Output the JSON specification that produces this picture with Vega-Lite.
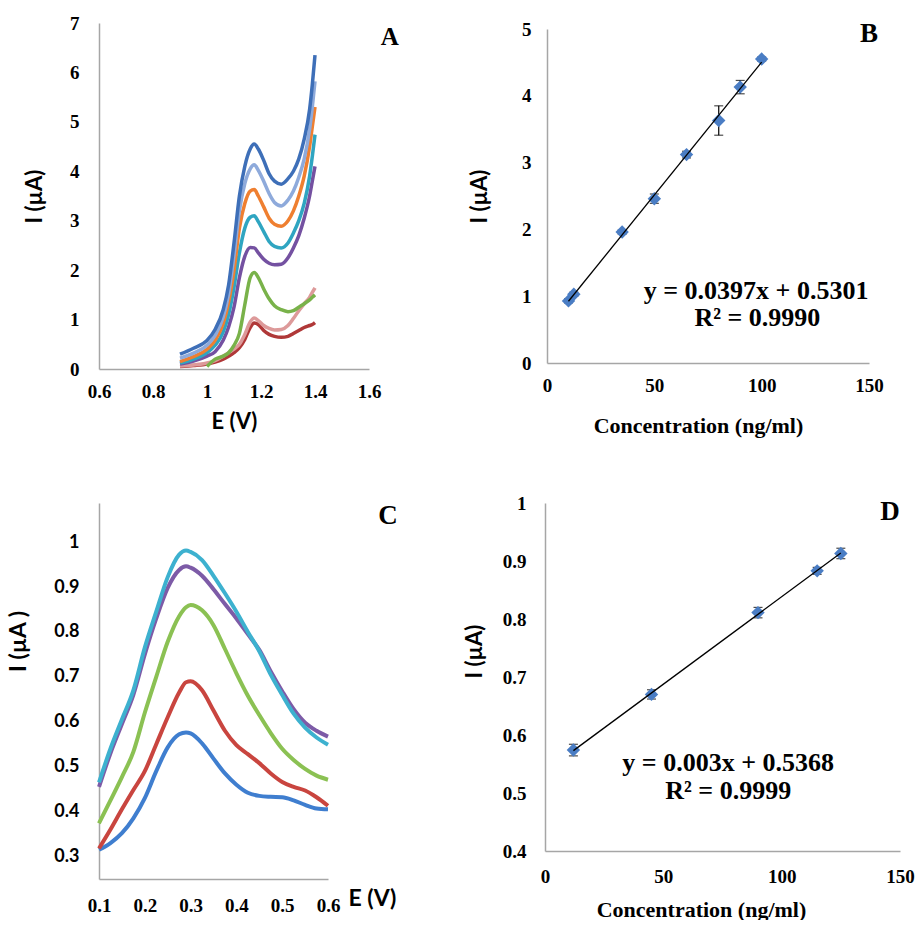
{
  "$schema": "https://vega.github.io/schema/vega-lite/v6.json",
  "background": "white",
  "padding": {"left": 7, "top": 14, "right": 0, "bottom": 0},
  "datasets": {
    "A": [
      {"s":"s8","E":0.90,"I":0.05},{"s":"s8","E":0.95,"I":0.07},{"s":"s8","E":1.00,"I":0.10},{"s":"s8","E":1.03,"I":0.14},{"s":"s8","E":1.06,"I":0.20},{"s":"s8","E":1.08,"I":0.26},{"s":"s8","E":1.10,"I":0.33},{"s":"s8","E":1.12,"I":0.43},{"s":"s8","E":1.14,"I":0.60},{"s":"s8","E":1.16,"I":0.84},{"s":"s8","E":1.175,"I":0.93},{"s":"s8","E":1.19,"I":0.90},{"s":"s8","E":1.21,"I":0.78},{"s":"s8","E":1.23,"I":0.70},{"s":"s8","E":1.25,"I":0.66},{"s":"s8","E":1.275,"I":0.64},{"s":"s8","E":1.30,"I":0.66},{"s":"s8","E":1.32,"I":0.72},{"s":"s8","E":1.34,"I":0.78},{"s":"s8","E":1.36,"I":0.84},{"s":"s8","E":1.38,"I":0.88},{"s":"s8","E":1.39,"I":0.90},{"s":"s8","E":1.40,"I":0.94},
      {"s":"s7","E":0.90,"I":0.06},{"s":"s7","E":0.95,"I":0.08},{"s":"s7","E":1.00,"I":0.12},{"s":"s7","E":1.03,"I":0.17},{"s":"s7","E":1.06,"I":0.26},{"s":"s7","E":1.08,"I":0.33},{"s":"s7","E":1.10,"I":0.40},{"s":"s7","E":1.12,"I":0.50},{"s":"s7","E":1.14,"I":0.70},{"s":"s7","E":1.16,"I":0.95},{"s":"s7","E":1.175,"I":1.03},{"s":"s7","E":1.19,"I":0.98},{"s":"s7","E":1.21,"I":0.88},{"s":"s7","E":1.23,"I":0.82},{"s":"s7","E":1.25,"I":0.79},{"s":"s7","E":1.275,"I":0.80},{"s":"s7","E":1.30,"I":0.88},{"s":"s7","E":1.32,"I":1.02},{"s":"s7","E":1.34,"I":1.18},{"s":"s7","E":1.36,"I":1.32},{"s":"s7","E":1.38,"I":1.45},{"s":"s7","E":1.39,"I":1.55},{"s":"s7","E":1.40,"I":1.64},
      {"s":"s6","E":1.00,"I":0.05},{"s":"s6","E":1.03,"I":0.20},{"s":"s6","E":1.06,"I":0.26},{"s":"s6","E":1.08,"I":0.33},{"s":"s6","E":1.10,"I":0.48},{"s":"s6","E":1.12,"I":0.72},{"s":"s6","E":1.14,"I":1.30},{"s":"s6","E":1.16,"I":1.85},{"s":"s6","E":1.175,"I":1.95},{"s":"s6","E":1.19,"I":1.85},{"s":"s6","E":1.21,"I":1.62},{"s":"s6","E":1.23,"I":1.42},{"s":"s6","E":1.25,"I":1.28},{"s":"s6","E":1.275,"I":1.20},{"s":"s6","E":1.30,"I":1.16},{"s":"s6","E":1.32,"I":1.18},{"s":"s6","E":1.34,"I":1.25},{"s":"s6","E":1.36,"I":1.32},{"s":"s6","E":1.38,"I":1.40},{"s":"s6","E":1.39,"I":1.45},{"s":"s6","E":1.40,"I":1.50},
      {"s":"s5","E":0.90,"I":0.10},{"s":"s5","E":0.95,"I":0.16},{"s":"s5","E":1.00,"I":0.26},{"s":"s5","E":1.03,"I":0.35},{"s":"s5","E":1.06,"I":0.58},{"s":"s5","E":1.08,"I":0.85},{"s":"s5","E":1.10,"I":1.25},{"s":"s5","E":1.12,"I":1.85},{"s":"s5","E":1.14,"I":2.28},{"s":"s5","E":1.16,"I":2.46},{"s":"s5","E":1.175,"I":2.45},{"s":"s5","E":1.19,"I":2.35},{"s":"s5","E":1.21,"I":2.22},{"s":"s5","E":1.23,"I":2.14},{"s":"s5","E":1.25,"I":2.11},{"s":"s5","E":1.275,"I":2.12},{"s":"s5","E":1.30,"I":2.25},{"s":"s5","E":1.32,"I":2.45},{"s":"s5","E":1.34,"I":2.70},{"s":"s5","E":1.36,"I":3.05},{"s":"s5","E":1.38,"I":3.50},{"s":"s5","E":1.39,"I":3.80},{"s":"s5","E":1.40,"I":4.10},
      {"s":"s4","E":0.90,"I":0.12},{"s":"s4","E":0.95,"I":0.20},{"s":"s4","E":1.00,"I":0.33},{"s":"s4","E":1.03,"I":0.48},{"s":"s4","E":1.06,"I":0.75},{"s":"s4","E":1.08,"I":1.10},{"s":"s4","E":1.10,"I":1.65},{"s":"s4","E":1.12,"I":2.35},{"s":"s4","E":1.14,"I":2.85},{"s":"s4","E":1.16,"I":3.07},{"s":"s4","E":1.175,"I":3.10},{"s":"s4","E":1.19,"I":2.98},{"s":"s4","E":1.21,"I":2.78},{"s":"s4","E":1.23,"I":2.58},{"s":"s4","E":1.25,"I":2.48},{"s":"s4","E":1.275,"I":2.45},{"s":"s4","E":1.30,"I":2.55},{"s":"s4","E":1.32,"I":2.75},{"s":"s4","E":1.34,"I":3.00},{"s":"s4","E":1.36,"I":3.35},{"s":"s4","E":1.38,"I":3.90},{"s":"s4","E":1.39,"I":4.30},{"s":"s4","E":1.40,"I":4.74},
      {"s":"s3","E":0.90,"I":0.15},{"s":"s3","E":0.95,"I":0.25},{"s":"s3","E":1.00,"I":0.40},{"s":"s3","E":1.03,"I":0.58},{"s":"s3","E":1.06,"I":0.92},{"s":"s3","E":1.08,"I":1.35},{"s":"s3","E":1.10,"I":2.00},{"s":"s3","E":1.12,"I":2.85},{"s":"s3","E":1.14,"I":3.35},{"s":"s3","E":1.16,"I":3.60},{"s":"s3","E":1.175,"I":3.63},{"s":"s3","E":1.19,"I":3.50},{"s":"s3","E":1.21,"I":3.28},{"s":"s3","E":1.23,"I":3.05},{"s":"s3","E":1.25,"I":2.93},{"s":"s3","E":1.275,"I":2.89},{"s":"s3","E":1.30,"I":3.00},{"s":"s3","E":1.32,"I":3.20},{"s":"s3","E":1.34,"I":3.50},{"s":"s3","E":1.36,"I":3.90},{"s":"s3","E":1.38,"I":4.50},{"s":"s3","E":1.39,"I":4.90},{"s":"s3","E":1.40,"I":5.30},
      {"s":"s2","E":0.90,"I":0.22},{"s":"s2","E":0.95,"I":0.32},{"s":"s2","E":1.00,"I":0.48},{"s":"s2","E":1.03,"I":0.68},{"s":"s2","E":1.06,"I":1.05},{"s":"s2","E":1.08,"I":1.52},{"s":"s2","E":1.10,"I":2.30},{"s":"s2","E":1.12,"I":3.20},{"s":"s2","E":1.14,"I":3.75},{"s":"s2","E":1.16,"I":4.05},{"s":"s2","E":1.175,"I":4.13},{"s":"s2","E":1.19,"I":4.02},{"s":"s2","E":1.21,"I":3.80},{"s":"s2","E":1.23,"I":3.55},{"s":"s2","E":1.25,"I":3.37},{"s":"s2","E":1.275,"I":3.30},{"s":"s2","E":1.30,"I":3.42},{"s":"s2","E":1.32,"I":3.60},{"s":"s2","E":1.34,"I":3.88},{"s":"s2","E":1.36,"I":4.25},{"s":"s2","E":1.38,"I":4.85},{"s":"s2","E":1.39,"I":5.30},{"s":"s2","E":1.40,"I":5.82},
      {"s":"s1","E":0.90,"I":0.30},{"s":"s1","E":0.95,"I":0.42},{"s":"s1","E":1.00,"I":0.58},{"s":"s1","E":1.03,"I":0.80},{"s":"s1","E":1.06,"I":1.20},{"s":"s1","E":1.08,"I":1.70},{"s":"s1","E":1.10,"I":2.55},{"s":"s1","E":1.12,"I":3.50},{"s":"s1","E":1.14,"I":4.10},{"s":"s1","E":1.16,"I":4.45},{"s":"s1","E":1.175,"I":4.55},{"s":"s1","E":1.19,"I":4.45},{"s":"s1","E":1.21,"I":4.22},{"s":"s1","E":1.23,"I":3.95},{"s":"s1","E":1.25,"I":3.80},{"s":"s1","E":1.275,"I":3.74},{"s":"s1","E":1.30,"I":3.85},{"s":"s1","E":1.32,"I":4.00},{"s":"s1","E":1.34,"I":4.25},{"s":"s1","E":1.36,"I":4.65},{"s":"s1","E":1.38,"I":5.25},{"s":"s1","E":1.39,"I":5.75},{"s":"s1","E":1.40,"I":6.35}
    ],
    "B": [
      {"c":10,"I":0.93,"err":0.03},{"c":12.5,"I":1.03,"err":0.03},{"c":35,"I":1.96,"err":0.03},{"c":50,"I":2.46,"err":0.07},{"c":65,"I":3.12,"err":0.05},{"c":80,"I":3.63,"err":0.22},{"c":90,"I":4.13,"err":0.10},{"c":100,"I":4.55,"err":0.03}
    ],
    "C": [
      {"s":"c1","E":0.10,"I":0.315},{"s":"c1","E":0.125,"I":0.33},{"s":"c1","E":0.15,"I":0.352},{"s":"c1","E":0.175,"I":0.385},{"s":"c1","E":0.20,"I":0.43},{"s":"c1","E":0.225,"I":0.49},{"s":"c1","E":0.25,"I":0.543},{"s":"c1","E":0.275,"I":0.572},{"s":"c1","E":0.29,"I":0.576},{"s":"c1","E":0.30,"I":0.574},{"s":"c1","E":0.325,"I":0.552},{"s":"c1","E":0.35,"I":0.518},{"s":"c1","E":0.375,"I":0.485},{"s":"c1","E":0.40,"I":0.46},{"s":"c1","E":0.425,"I":0.442},{"s":"c1","E":0.45,"I":0.435},{"s":"c1","E":0.475,"I":0.433},{"s":"c1","E":0.50,"I":0.432},{"s":"c1","E":0.525,"I":0.425},{"s":"c1","E":0.55,"I":0.415},{"s":"c1","E":0.575,"I":0.407},{"s":"c1","E":0.60,"I":0.405},
      {"s":"c2","E":0.10,"I":0.318},{"s":"c2","E":0.125,"I":0.36},{"s":"c2","E":0.15,"I":0.405},{"s":"c2","E":0.175,"I":0.448},{"s":"c2","E":0.20,"I":0.49},{"s":"c2","E":0.225,"I":0.55},{"s":"c2","E":0.25,"I":0.61},{"s":"c2","E":0.275,"I":0.665},{"s":"c2","E":0.29,"I":0.688},{"s":"c2","E":0.30,"I":0.69},{"s":"c2","E":0.325,"I":0.67},{"s":"c2","E":0.35,"I":0.625},{"s":"c2","E":0.375,"I":0.58},{"s":"c2","E":0.40,"I":0.548},{"s":"c2","E":0.425,"I":0.528},{"s":"c2","E":0.45,"I":0.508},{"s":"c2","E":0.475,"I":0.485},{"s":"c2","E":0.50,"I":0.466},{"s":"c2","E":0.525,"I":0.455},{"s":"c2","E":0.55,"I":0.447},{"s":"c2","E":0.575,"I":0.432},{"s":"c2","E":0.60,"I":0.413},
      {"s":"c3","E":0.10,"I":0.374},{"s":"c3","E":0.125,"I":0.425},{"s":"c3","E":0.15,"I":0.477},{"s":"c3","E":0.175,"I":0.533},{"s":"c3","E":0.20,"I":0.62},{"s":"c3","E":0.225,"I":0.70},{"s":"c3","E":0.25,"I":0.778},{"s":"c3","E":0.275,"I":0.835},{"s":"c3","E":0.29,"I":0.855},{"s":"c3","E":0.30,"I":0.86},{"s":"c3","E":0.325,"I":0.848},{"s":"c3","E":0.35,"I":0.815},{"s":"c3","E":0.375,"I":0.762},{"s":"c3","E":0.40,"I":0.708},{"s":"c3","E":0.425,"I":0.658},{"s":"c3","E":0.45,"I":0.615},{"s":"c3","E":0.475,"I":0.575},{"s":"c3","E":0.50,"I":0.54},{"s":"c3","E":0.525,"I":0.515},{"s":"c3","E":0.55,"I":0.495},{"s":"c3","E":0.575,"I":0.48},{"s":"c3","E":0.60,"I":0.471},
      {"s":"c4","E":0.10,"I":0.455},{"s":"c4","E":0.125,"I":0.53},{"s":"c4","E":0.15,"I":0.595},{"s":"c4","E":0.175,"I":0.66},{"s":"c4","E":0.20,"I":0.75},{"s":"c4","E":0.225,"I":0.83},{"s":"c4","E":0.25,"I":0.898},{"s":"c4","E":0.275,"I":0.938},{"s":"c4","E":0.29,"I":0.946},{"s":"c4","E":0.30,"I":0.943},{"s":"c4","E":0.325,"I":0.925},{"s":"c4","E":0.35,"I":0.895},{"s":"c4","E":0.375,"I":0.862},{"s":"c4","E":0.40,"I":0.83},{"s":"c4","E":0.425,"I":0.795},{"s":"c4","E":0.45,"I":0.76},{"s":"c4","E":0.475,"I":0.712},{"s":"c4","E":0.50,"I":0.668},{"s":"c4","E":0.525,"I":0.628},{"s":"c4","E":0.55,"I":0.598},{"s":"c4","E":0.575,"I":0.58},{"s":"c4","E":0.60,"I":0.567},
      {"s":"c5","E":0.10,"I":0.465},{"s":"c5","E":0.125,"I":0.54},{"s":"c5","E":0.15,"I":0.605},{"s":"c5","E":0.175,"I":0.67},{"s":"c5","E":0.20,"I":0.765},{"s":"c5","E":0.225,"I":0.845},{"s":"c5","E":0.25,"I":0.922},{"s":"c5","E":0.275,"I":0.972},{"s":"c5","E":0.29,"I":0.981},{"s":"c5","E":0.30,"I":0.978},{"s":"c5","E":0.325,"I":0.96},{"s":"c5","E":0.35,"I":0.925},{"s":"c5","E":0.375,"I":0.886},{"s":"c5","E":0.40,"I":0.845},{"s":"c5","E":0.425,"I":0.80},{"s":"c5","E":0.45,"I":0.757},{"s":"c5","E":0.475,"I":0.705},{"s":"c5","E":0.50,"I":0.66},{"s":"c5","E":0.525,"I":0.618},{"s":"c5","E":0.55,"I":0.587},{"s":"c5","E":0.575,"I":0.565},{"s":"c5","E":0.60,"I":0.549}
    ],
    "D": [
      {"c":12,"I":0.574,"err":0.01},{"c":45,"I":0.670,"err":0.008},{"c":90,"I":0.811,"err":0.009},{"c":115,"I":0.883,"err":0.006},{"c":125,"I":0.913,"err":0.009}
    ]
  },
  "spacing": 58,
  "resolve": {"scale": {"color": "independent"}},
  "vconcat": [
    {
      "hconcat": [
        {
          "width": 270, "height": 346,
          "layer": [
            {"data": {"name": "A"},
             "mark": {"type": "line", "strokeWidth": 3.5, "interpolate": "monotone"},
             "encoding": {
               "x": {"field": "E", "type": "quantitative", "scale": {"domain": [0.6, 1.6], "nice": false, "zero": false},
                     "axis": {"values": [0.6, 0.8, 1, 1.2, 1.4, 1.6], "format": "~g", "title": "E (V)", "labelPadding": 13, "titlePadding": 10}},
               "y": {"field": "I", "type": "quantitative", "scale": {"domain": [0, 7], "nice": false},
                     "axis": {"values": [0, 1, 2, 3, 4, 5, 6, 7], "format": "d", "title": "I (µA)", "labelPadding": 20, "titlePadding": 23}},
               "color": {"field": "s", "type": "nominal", "legend": null,
                 "scale": {"domain": ["s1","s2","s3","s4","s5","s6","s7","s8"], "range": ["#3E6FB8","#8EAADB","#EF7F30","#2FA5C1","#7451A1","#79B24A","#DD9A9A","#B03838"]}}}},
            {"data": {"values": [{"t": "A"}]},
             "mark": {"type": "text", "font": "Liberation Serif", "fontWeight": "bold", "fontSize": 25, "fill": "#000000", "align": "center", "baseline": "middle"},
             "encoding": {"x": {"datum": 1.677, "type": "quantitative"}, "y": {"datum": 6.71, "type": "quantitative"}, "text": {"field": "t", "type": "nominal"}}}
          ]
        },
        {
          "width": 322, "height": 334,
          "layer": [
            {"data": {"name": "B"},
             "mark": {"type": "errorbar", "color": "#000000", "thickness": 1.2, "ticks": {"size": 9, "thickness": 1.2, "color": "#000000"}},
             "encoding": {
               "x": {"field": "c", "type": "quantitative", "scale": {"domain": [0, 150], "nice": false},
                     "axis": {"values": [0, 50, 100, 150], "format": "d", "title": "Concentration (ng/ml)", "titleFont": "Liberation Serif", "titleFontSize": 22, "labelPadding": 13, "titlePadding": 20, "titleX": 151}},
               "y": {"field": "I", "type": "quantitative", "scale": {"domain": [0, 5], "nice": false},
                     "axis": {"values": [0, 1, 2, 3, 4, 5], "format": "d", "title": "I (µA)", "labelPadding": 16, "titlePadding": 30}},
               "yError": {"field": "err"}}},
            {"data": {"name": "B"},
             "mark": {"type": "point", "shape": "diamond", "filled": true, "size": 180, "color": "#4A7DC4", "opacity": 1},
             "encoding": {"x": {"field": "c", "type": "quantitative"}, "y": {"field": "I", "type": "quantitative"}}},
            {"data": {"name": "B"},
             "transform": [{"regression": "I", "on": "c"}],
             "mark": {"type": "line", "color": "#000000", "strokeWidth": 1.3},
             "encoding": {"x": {"field": "c", "type": "quantitative"}, "y": {"field": "I", "type": "quantitative"}}},
            {"data": {"values": [{"t": "y = 0.0397x + 0.5301"}]},
             "mark": {"type": "text", "font": "Liberation Serif", "fontWeight": "bold", "fontSize": 26, "fill": "#000000", "align": "center", "baseline": "middle"},
             "encoding": {"x": {"datum": 97.4, "type": "quantitative"}, "y": {"datum": 1.072, "type": "quantitative"}, "text": {"field": "t", "type": "nominal"}}},
            {"data": {"values": [{"t": "R² = 0.9990"}]},
             "mark": {"type": "text", "font": "Liberation Serif", "fontWeight": "bold", "fontSize": 26, "fill": "#000000", "align": "center", "baseline": "middle"},
             "encoding": {"x": {"datum": 98, "type": "quantitative"}, "y": {"datum": 0.674, "type": "quantitative"}, "text": {"field": "t", "type": "nominal"}}},
            {"data": {"values": [{"t": "B"}]},
             "mark": {"type": "text", "font": "Liberation Serif", "fontWeight": "bold", "fontSize": 27, "fill": "#000000", "align": "center", "baseline": "middle"},
             "encoding": {"x": {"datum": 150, "type": "quantitative"}, "y": {"datum": 4.93, "type": "quantitative"}, "text": {"field": "t", "type": "nominal"}}}
          ]
        }
      ],
      "spacing": 178,
      "center": true,
      "bounds": "flush"
    },
    {
      "hconcat": [
        {
          "width": 229, "height": 376,
          "layer": [
            {"data": {"name": "C"},
             "mark": {"type": "line", "strokeWidth": 4, "interpolate": "monotone"},
             "encoding": {
               "x": {"field": "E", "type": "quantitative", "scale": {"domain": [0.1, 0.6], "nice": false, "zero": false},
                     "axis": {"values": [0.1, 0.2, 0.3, 0.4, 0.5, 0.6], "format": "~g", "title": "E (V)", "titleFontSize": 23, "labelPadding": 17, "titleX": 249, "titleY": 19, "titleAlign": "left", "titleBaseline": "middle"}},
               "y": {"field": "I", "type": "quantitative", "scale": {"domain": [0.25, 1.087], "nice": false, "zero": false},
                     "axis": {"values": [0.3, 0.4, 0.5, 0.6, 0.7, 0.8, 0.9, 1], "format": "~g", "title": "I (µA )", "titleFontSize": 23, "labelFont": "Lato", "labelFontSize": 18, "labelPadding": 20, "titlePadding": 23, "titleY": 138}},
               "color": {"field": "s", "type": "nominal", "legend": null,
                 "scale": {"domain": ["c1","c2","c3","c4","c5"], "range": ["#3F7ECF","#C9453F","#8BC153","#7D5BA7","#3DB1CF"]}}}},
            {"data": {"values": [{"t": "C"}]},
             "mark": {"type": "text", "font": "Liberation Serif", "fontWeight": "bold", "fontSize": 27, "fill": "#000000", "align": "center", "baseline": "middle"},
             "encoding": {"x": {"datum": 0.731, "type": "quantitative"}, "y": {"datum": 1.057, "type": "quantitative"}, "text": {"field": "t", "type": "nominal"}}}
          ]
        },
        {
          "width": 355, "height": 348,
          "layer": [
            {"data": {"name": "D"},
             "mark": {"type": "errorbar", "color": "#000000", "thickness": 1.2, "ticks": {"size": 9, "thickness": 1.2, "color": "#000000"}},
             "encoding": {
               "x": {"field": "c", "type": "quantitative", "scale": {"domain": [0, 150], "nice": false},
                     "axis": {"values": [0, 50, 100, 150], "format": "d", "title": "Concentration (ng/ml)", "titleFont": "Liberation Serif", "titleFontSize": 22, "labelPadding": 16, "titlePadding": 13, "titleX": 156}},
               "y": {"field": "I", "type": "quantitative", "scale": {"domain": [0.4, 1], "nice": false, "zero": false},
                     "axis": {"values": [0.4, 0.5, 0.6, 0.7, 0.8, 0.9, 1], "format": "~g", "title": "I (µA)", "labelPadding": 19, "titlePadding": 16, "titleY": 148}},
               "yError": {"field": "err"}}},
            {"data": {"name": "D"},
             "mark": {"type": "point", "shape": "diamond", "filled": true, "size": 180, "color": "#4A7DC4", "opacity": 1},
             "encoding": {"x": {"field": "c", "type": "quantitative"}, "y": {"field": "I", "type": "quantitative"}}},
            {"data": {"name": "D"},
             "transform": [{"regression": "I", "on": "c"}],
             "mark": {"type": "line", "color": "#000000", "strokeWidth": 1.3},
             "encoding": {"x": {"field": "c", "type": "quantitative"}, "y": {"field": "I", "type": "quantitative"}}},
            {"data": {"values": [{"t": "y = 0.003x + 0.5368"}]},
             "mark": {"type": "text", "font": "Liberation Serif", "fontWeight": "bold", "fontSize": 26, "fill": "#000000", "align": "center", "baseline": "middle"},
             "encoding": {"x": {"datum": 77.4, "type": "quantitative"}, "y": {"datum": 0.552, "type": "quantitative"}, "text": {"field": "t", "type": "nominal"}}},
            {"data": {"values": [{"t": "R² = 0.9999"}]},
             "mark": {"type": "text", "font": "Liberation Serif", "fontWeight": "bold", "fontSize": 26, "fill": "#000000", "align": "center", "baseline": "middle"},
             "encoding": {"x": {"datum": 77.4, "type": "quantitative"}, "y": {"datum": 0.503, "type": "quantitative"}, "text": {"field": "t", "type": "nominal"}}},
            {"data": {"values": [{"t": "D"}]},
             "mark": {"type": "text", "font": "Liberation Serif", "fontWeight": "bold", "fontSize": 27, "fill": "#000000", "align": "center", "baseline": "middle"},
             "encoding": {"x": {"datum": 145.8, "type": "quantitative"}, "y": {"datum": 0.985, "type": "quantitative"}, "text": {"field": "t", "type": "nominal"}}}
          ]
        }
      ],
      "spacing": 217,
      "bounds": "flush"
    }
  ],
  "config": {
    "view": {"stroke": null},
    "axis": {"grid": false, "ticks": false, "tickSize": 0, "domainColor": "#A6A6A6", "domainWidth": 1.5,
             "labelColor": "#000000", "labelFont": "Liberation Serif", "labelFontWeight": "bold", "labelFontSize": 19,
             "labelFlush": false, "labelOverlap": false,
             "titleColor": "#000000", "titleFont": "Lato", "titleFontWeight": "bold", "titleFontSize": 22}
  }
}
